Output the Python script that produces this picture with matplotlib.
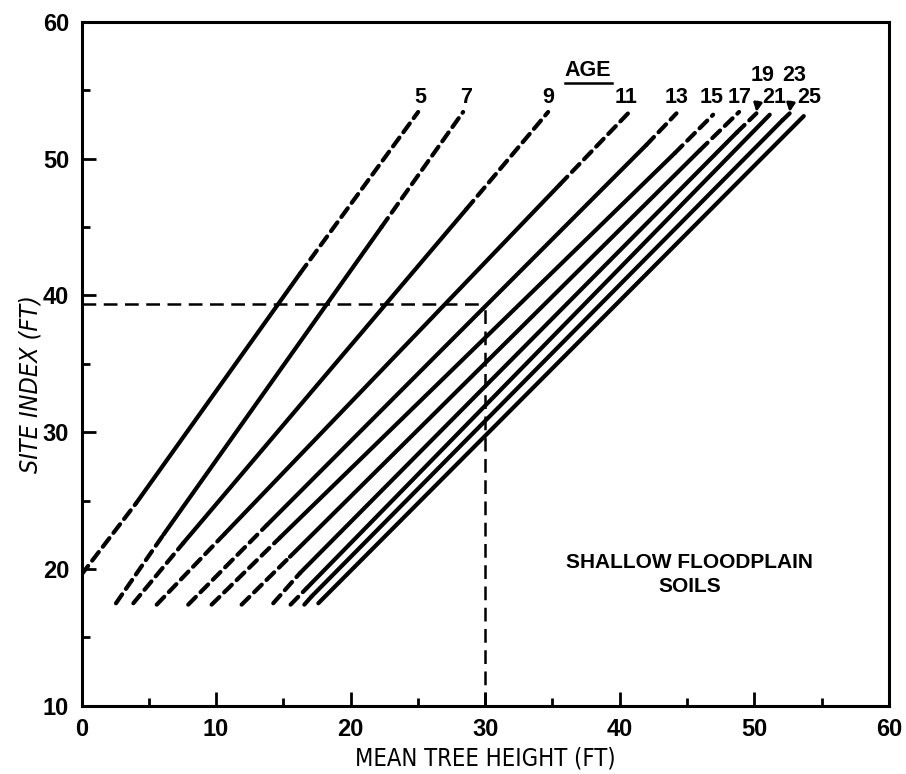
import matplotlib
matplotlib.use("Agg")
import matplotlib.pyplot as plt
from matplotlib.ticker import MultipleLocator

# age curves: bottom end, start of solid part, end of solid part, top end
ages = [5, 7, 9, 11, 13, 15, 17, 19, 21, 23, 25]
x_bot = [0.0, 2.56, 3.85, 5.59, 7.93, 9.67, 11.9, 14.25, 15.54, 16.56, 17.6]
y_bot = [19.6, 17.5, 17.5, 17.4, 17.4, 17.4, 17.4, 17.5, 17.4, 17.4, 17.5]
x_lo = [4.05, 6.08, 7.56, 10.66, 13.76, 14.75, 15.49, 16.23, 16.73, 17.1, 17.6]
y_lo = [24.8, 22.5, 21.9, 22.6, 23.2, 22.3, 20.9, 19.7, 18.6, 18.0, 17.5]
x_hi = [16.24, 22.3, 28.6, 35.55, 41.99, 44.1, 45.95, 48.7, 51.15, 52.1, 53.68]
y_hi = [41.6, 45.0, 46.3, 48.1, 51.0, 50.4, 50.6, 51.9, 53.2, 52.8, 53.1]
x_top = [25.02, 28.36, 34.68, 40.62, 44.22, 46.94, 48.87, 50.16, 51.15, 52.63, 53.68]
y_top = [53.4, 53.4, 53.4, 53.3, 53.3, 53.2, 53.4, 53.3, 53.2, 53.3, 53.1]

# age label positions (19 and 23 sit higher, with arrows)
label_x = [25.2, 28.6, 34.7, 40.5, 44.2, 46.8, 48.9, 50.6, 51.5, 53.0, 54.1]
label_y = [54.45, 54.45, 54.45, 54.45, 54.45, 54.45, 54.45, 56.1, 54.45, 56.1, 54.45]

# example reading
ex_height = 30
ex_index = 39.4

fig = plt.figure(figsize=(9.06, 7.74), dpi=100)
ax = fig.add_axes([0.09, 0.088, 0.891, 0.884])

lw = 3.0
dash = (0, (2.6, 1.6))
for i in range(len(ages)):
    if x_lo[i] > x_bot[i]:
        ax.plot([x_bot[i], x_lo[i]], [y_bot[i], y_lo[i]], color='black', lw=lw,
                linestyle=dash, dash_capstyle='round')
    ax.plot([x_lo[i], x_hi[i]], [y_lo[i], y_hi[i]], color='black', lw=lw,
            solid_capstyle='round')
    if x_top[i] > x_hi[i]:
        ax.plot([x_hi[i], x_top[i]], [y_hi[i], y_top[i]], color='black', lw=lw,
                linestyle=dash, dash_capstyle='round')

    txt = str(ages[i])
    if ages[i] in (19, 23):
        ax.annotate(txt, xy=(x_top[i], y_top[i] + 0.1), xytext=(label_x[i], label_y[i]),
                    ha='center', va='center', fontsize=15.5, fontweight='bold',
                    family='Liberation Sans',
                    arrowprops=dict(arrowstyle='-|>', color='black', lw=2,
                                    mutation_scale=12, shrinkA=10, shrinkB=0))
    else:
        ax.text(label_x[i], label_y[i], txt, ha='center', va='center', fontsize=15.5,
                fontweight='bold', family='Liberation Sans')

ax.text(37.65, 56.4, 'AGE', ha='center', va='center', fontsize=15.5, fontweight='bold',
        family='Liberation Sans')
ax.plot([35.9, 39.4], [55.55, 55.55], color='black', lw=1.8)

ax.plot([0, ex_height], [ex_index, ex_index], color='black', lw=1.8, linestyle=(0, (5.5, 3)))
ax.plot([ex_height, ex_height], [10, ex_index], color='black', lw=1.8, linestyle=(0, (5.5, 3)))

ax.text(45.2, 19.6, 'SHALLOW FLOODPLAIN\nSOILS', ha='center', va='center', fontsize=15,
        fontweight='bold', family='Liberation Sans', linespacing=1.3)

ax.set_xlim(0, 60)
ax.set_ylim(10, 60)
ax.xaxis.set_major_locator(MultipleLocator(10))
ax.xaxis.set_minor_locator(MultipleLocator(5))
ax.yaxis.set_major_locator(MultipleLocator(10))
ax.yaxis.set_minor_locator(MultipleLocator(5))
ax.tick_params(which='both', direction='in', width=2, top=False, right=False)
ax.tick_params(which='major', length=10, pad=9)
ax.tick_params(which='minor', length=6)
for s in ax.spines.values():
    s.set_linewidth(2.2)
for lab in ax.get_xticklabels() + ax.get_yticklabels():
    lab.set_fontsize(17)
    lab.set_fontweight('bold')
    lab.set_family('Liberation Sans')

ax.set_xlabel('MEAN TREE HEIGHT (FT)', fontsize=17, family='DejaVu Sans',
              fontstretch='condensed', labelpad=4)
ax.set_ylabel('SITE INDEX (FT)', fontsize=18, style='italic', family='DejaVu Sans',
              fontstretch='condensed')
ax.yaxis.set_label_coords(-0.048, 0.47)

fig.savefig('out.png', dpi=100)
